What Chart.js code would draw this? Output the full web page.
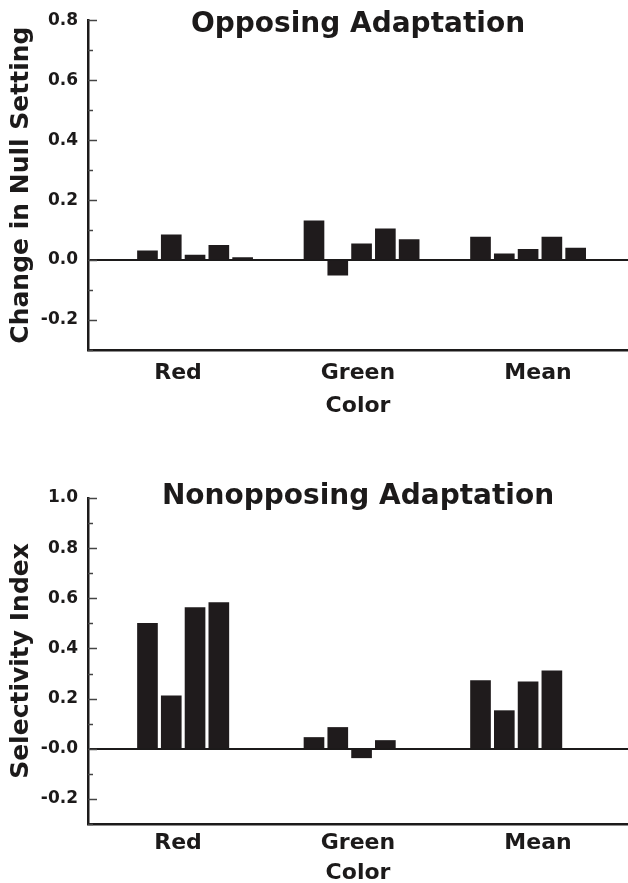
<!DOCTYPE html>
<html>
<head>
<meta charset="utf-8">
<script src="https://cdn.jsdelivr.net/npm/chart.js@4.4.1/dist/chart.umd.min.js"></script>
<style>
  body { margin: 0; background: #fff; }
  canvas { display: block; }
</style>
</head>
<body>
<canvas id="chart-opposing" width="628" height="440"></canvas>
<canvas id="chart-nonopposing" width="628" height="443"></canvas>
<script>
// colour conditions on the x axis
const colors = ["Red", "Green", "Mean"];

// Opposing adaptation: change in null setting, one value per observer
const opposingRed = [0.031, 0.084, 0.017, 0.049, 0.008];
const opposingGreen = [0.131, -0.05, 0.054, 0.104, 0.068];
const opposingMean = [0.077, 0.021, 0.036, 0.077, 0.04];

// Nonopposing adaptation: selectivity index, one value per observer
const nonopposingRed = [0.5, 0.211, 0.563, 0.583];
const nonopposingGreen = [0.045, 0.085, -0.036, 0.033];
const nonopposingMean = [0.272, 0.152, 0.267, 0.311];

// y tick labels (the lower chart really prints "-0.0")
const opposingTickValues = [-0.2, 0, 0.2, 0.4, 0.6, 0.8];
const opposingTickLabels = ["-0.2", "0.0", "0.2", "0.4", "0.6", "0.8"];
const nonopposingTickValues = [-0.2, 0, 0.2, 0.4, 0.6, 0.8, 1.0];
const nonopposingTickLabels = ["-0.2", "-0.0", "0.2", "0.4", "0.6", "0.8", "1.0"];

Chart.defaults.font.family = "'DejaVu Sans', sans-serif";
Chart.defaults.font.weight = "bold";
Chart.defaults.color = "#1c1a1a";

const BAR = "#1f1b1c";
const X_MAX = 22.7; // x axis in bar-slot units

// small tick marks drawn on the inside of the y axis
const innerTicks = {
  id: "innerTicks",
  afterDatasetsDraw(chart) {
    const { ctx, chartArea, scales } = chart;
    ctx.save();
    ctx.strokeStyle = "#444";
    ctx.lineWidth = 1.5;
    scales.y.ticks.forEach((t) => {
      const py = Math.round(scales.y.getPixelForValue(t.value)) + 0.5;
      const len = Math.round(t.value * 10) % 2 === 0 ? 9 : 5;
      ctx.beginPath();
      ctx.moveTo(chartArea.left, py);
      ctx.lineTo(chartArea.left + len, py);
      ctx.stroke();
    });
    ctx.restore();
  },
};

function makeChart(canvasId, cfg) {
  const groups = cfg.groups;
  const nObs = groups[0].length;
  const datasets = [];
  for (let i = 0; i < nObs; i++) {
    datasets.push({
      label: "Observer " + (i + 1),
      data: groups.map((vals, g) => ({ x: 2 + 7 * g + i + 0.5, y: vals[i] })),
      backgroundColor: BAR,
      borderWidth: 0,
      barThickness: 20,
      grouped: false,
    });
  }

  return new Chart(document.getElementById(canvasId), {
    type: "bar",
    data: { datasets },
    plugins: [innerTicks],
    options: {
      responsive: false,
      animation: false,
      layout: { padding: 0 },
      plugins: {
        legend: { display: false },
        tooltip: { enabled: false },
        title: {
          display: true,
          text: cfg.title,
          fullSize: false,
          font: { size: 28, weight: "bold" },
          color: "#1c1a1a",
          padding: cfg.titlePadding,
        },
      },
      scales: {
        x: {
          type: "linear",
          min: 0,
          max: X_MAX,
          offset: false,
          grid: { display: false },
          border: { display: true, color: "#1c1a1a", width: 2.5 },
          afterBuildTicks: (scale) => {
            scale.ticks = colors.map((c, i) => ({ value: ((i + 0.5) * X_MAX) / 3 }));
          },
          ticks: {
            autoSkip: false,
            maxRotation: 0,
            padding: cfg.xLabelPad,
            font: { size: 22, weight: "bold" },
            callback: (v, i) => colors[i],
          },
          title: {
            display: true,
            text: "Color",
            font: { size: 22, weight: "bold" },
            padding: cfg.xTitlePad,
          },
          afterFit: (scale) => {
            scale.height = cfg.xHeight;
          },
        },
        y: {
          min: -0.3,
          max: cfg.yMax,
          border: { display: true, color: "#1c1a1a", width: 2.5 },
          grid: {
            drawTicks: false,
            lineWidth: 2,
            color: (ctx) => (Math.abs(ctx.tick.value) < 1e-9 ? "#1c1a1a" : "rgba(0,0,0,0)"),
          },
          ticks: {
            stepSize: 0.1,
            padding: 10,
            font: { size: 17, weight: "bold" },
            callback: (v) => {
              const k = cfg.tickValues.findIndex((t) => Math.abs(t - v) < 1e-6);
              return k >= 0 ? cfg.tickLabels[k] : "";
            },
          },
          title: {
            display: true,
            text: cfg.yTitle,
            font: { size: 25, weight: "bold" },
            padding: { top: 6, bottom: 4 },
          },
          afterFit: (scale) => {
            scale.width = 88;
          },
        },
      },
    },
  });
}

makeChart("chart-opposing", {
  title: "Opposing Adaptation",
  titlePadding: { top: 2.5, bottom: -21.1 },
  groups: [opposingRed, opposingGreen, opposingMean],
  yMax: 0.8,
  yTitle: "Change in Null Setting",
  tickValues: opposingTickValues,
  tickLabels: opposingTickLabels,
  xHeight: 90,
  xLabelPad: 2,
  xTitlePad: { top: 4, bottom: 21 },
});

makeChart("chart-nonopposing", {
  title: "Nonopposing Adaptation",
  titlePadding: { top: 40, bottom: -15.6 },
  groups: [nonopposingRed, nonopposingGreen, nonopposingMean],
  yMax: 1.0,
  yTitle: "Selectivity Index",
  tickValues: nonopposingTickValues,
  tickLabels: nonopposingTickLabels,
  xHeight: 59,
  xLabelPad: -2,
  xTitlePad: { top: 0, bottom: -3 },
});
</script>
</body>
</html>
